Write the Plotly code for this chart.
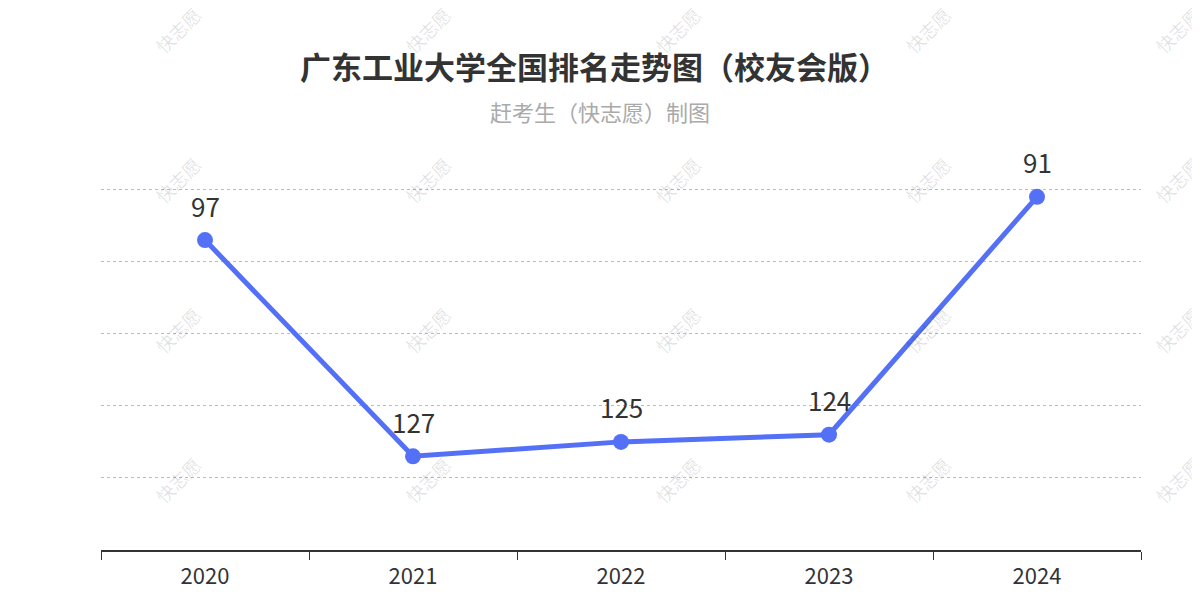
import plotly.graph_objects as go

years = ["2020", "2021", "2022", "2023", "2024"]
ranks = [97, 127, 125, 124, 91]

off = 8  # page body margin
W, H = 1200, 600
pl, pr, pt, pb = 101 - off, 1200 - 1141 + off, 186 - off, 50 + off
def px(x): return (x - off - pl) / (W - pl - pr)
def py(y): return (H - (y - off) - pb) / (H - pt - pb)

fig = go.Figure()
fig.add_trace(go.Scatter(
    x=years, y=ranks, mode="lines+markers",
    line=dict(color="#5470f6", width=5), marker=dict(size=16, color="#5470f6"),
    cliponaxis=False, hoverinfo="skip"))
for i, yv in enumerate(ranks):
    fig.add_annotation(x=i, y=yv, xref="x", yref="y", text=str(yv), showarrow=False,
                       yshift=35, font=dict(size=26, color="#333"))

for wx in [178, 428, 678, 928, 1178]:
    for wy in [30, 180, 330, 480]:
        fig.add_annotation(x=px(wx), y=py(wy), xref="paper", yref="paper", text="快志愿",
                           showarrow=False, textangle=-45, xanchor="center", yanchor="middle",
                           font=dict(size=18, color="rgba(0,0,0,0.12)"))

fig.add_annotation(x=px(594), y=py(65), xref="paper", yref="paper", showarrow=False,
                   xanchor="center", yanchor="middle",
                   text="<b>广东工业大学全国排名走势图（校友会版）</b>",
                   font=dict(size=31, color="#333"))
fig.add_annotation(x=px(600), y=py(111), xref="paper", yref="paper", showarrow=False,
                   xanchor="center", yanchor="middle",
                   text="赶考生（快志愿）制图", font=dict(size=22, color="#aaa"))

fig.update_layout(
    width=W, height=H, margin=dict(l=pl, r=pr, t=pt, b=pb, autoexpand=False),
    plot_bgcolor="white", paper_bgcolor="white",
    font=dict(family="Noto Sans CJK SC", color="#333"),
    showlegend=False,
    xaxis=dict(type="category", showgrid=False, showline=True, linecolor="#333", linewidth=2,
               ticks="outside", tickson="boundaries", ticklen=8, tickcolor="#333",
               ticklabelstandoff=6,
               tickfont=dict(size=22, color="#333"), range=[-0.5, 4.5]),
    yaxis=dict(range=[140, 89.5], tickvals=[90, 100, 110, 120, 130], showticklabels=False,
               gridcolor="#bbb", griddash="dot", zeroline=False, showline=False),
)
fig.write_html("out.html")
